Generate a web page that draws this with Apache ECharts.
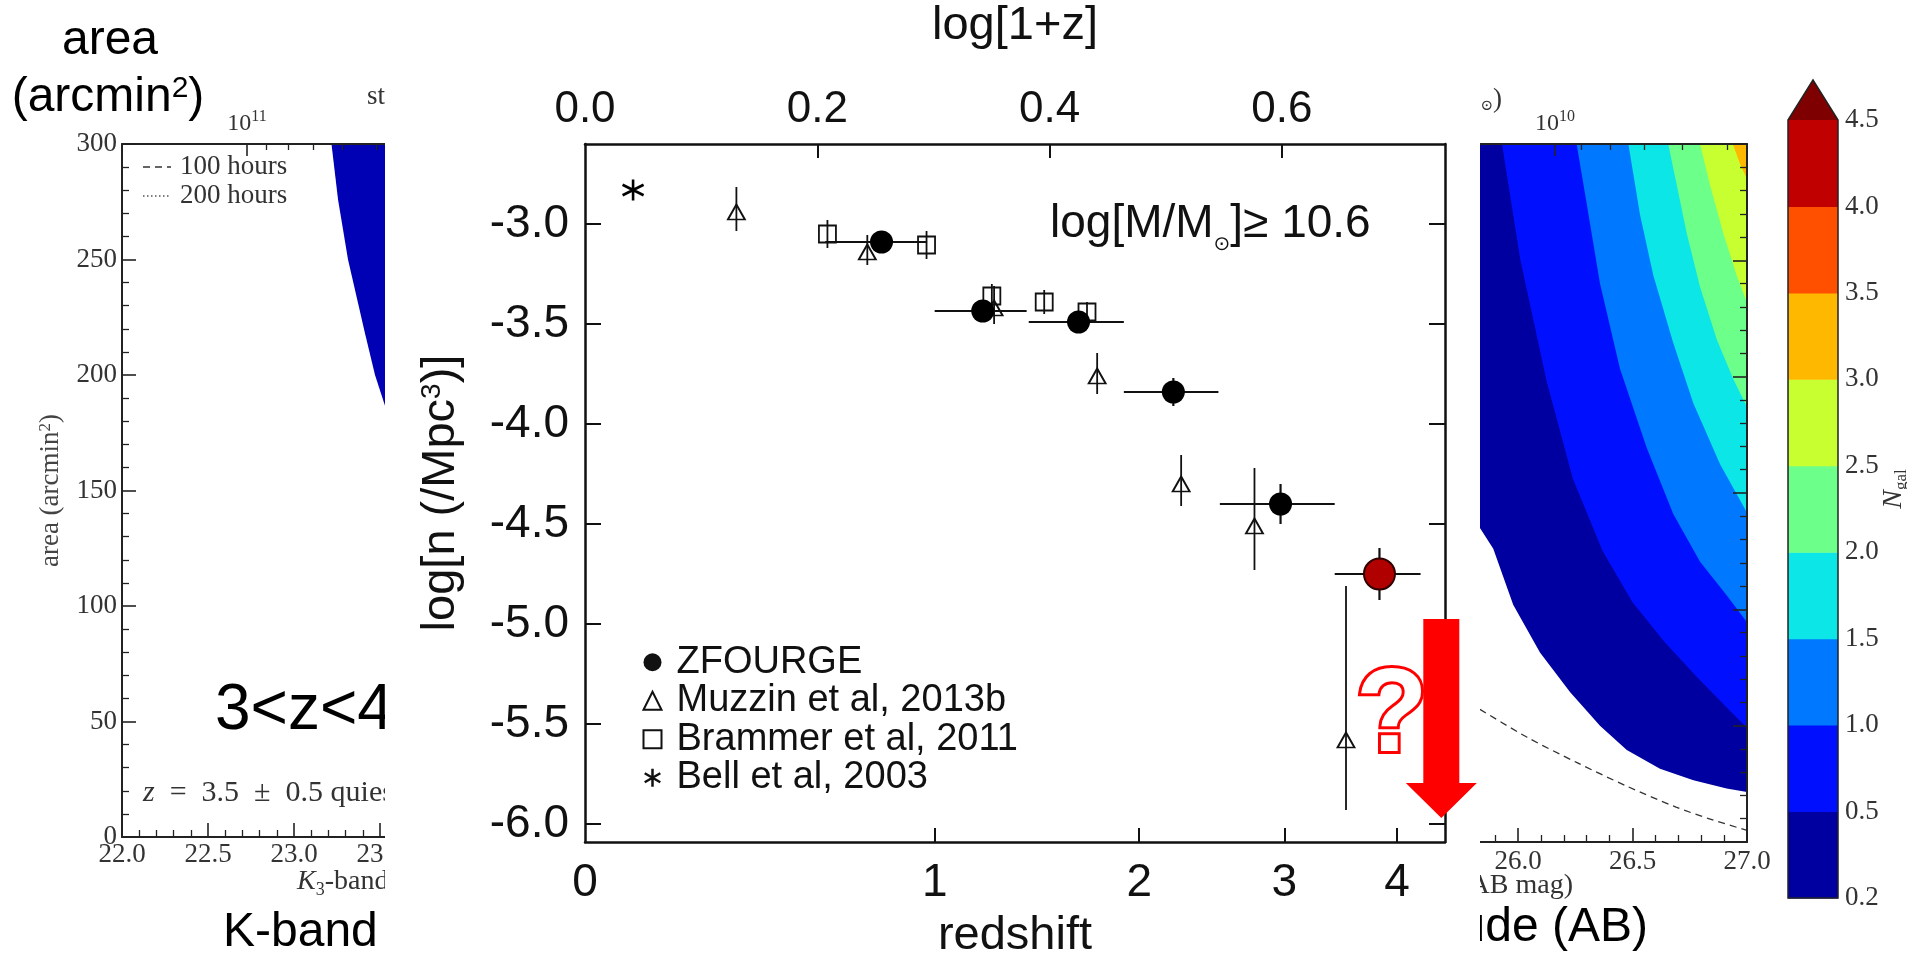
<!DOCTYPE html>
<html>
<head>
<meta charset="utf-8">
<script src="https://cdn.jsdelivr.net/npm/echarts@6/dist/echarts.min.js"></script>
<style>
  html, body { margin: 0; padding: 0; background: #fff; overflow: hidden; }
  #back  { position: absolute; left: 0; top: 0; width: 1907px; height: 958px; }
  #front { position: absolute; left: 385px; top: 0; width: 1095px; height: 958px; background: #fff; }
</style>
</head>
<body>
<div id="back"></div>
<div id="front"></div>
<script>
// ---------- fonts ----------
const SANS  = "'Liberation Sans', Arial, Helvetica, sans-serif";
const SERIF = "'Liberation Serif', 'DejaVu Serif', 'Times New Roman', serif";

// ---------- centre panel: number density of massive galaxies vs redshift ----------
const zfZ    = [0.80, 1.20, 1.66, 2.21, 2.97, 3.83];
const zfLogN = [-3.09, -3.435, -3.49, -3.84, -4.40, -4.75];
const zfErr  = [0.04, 0.05, 0.04, 0.07, 0.10, 0.13];
const zfZLo  = [0.61, 1.00, 1.41, 1.91, 2.52, 3.42];
const zfZHi  = [0.97, 1.40, 1.91, 2.51, 3.42, 4.24];
const zfFlag = [false, false, false, false, false, true];

const muZ    = [0.35, 0.75, 1.25, 1.76, 2.26, 2.77, 3.52];
const muLogN = [-2.94, -3.14, -3.42, -3.76, -4.30, -4.51, -5.58];
const muLo   = [-3.035, -3.205, -3.50, -3.85, -4.41, -4.73, -5.93];
const muHi   = [-2.815, -3.055, -3.31, -3.645, -4.155, -4.22, -4.81];

const brZ    = [0.617, 0.968, 1.24, 1.485, 1.705];
const brLogN = [-3.05, -3.105, -3.36, -3.39, -3.44];
const brErr  = [0.07, 0.07, 0.06, 0.06, 0.05];

const bellZ    = [0.10];
const bellLogN = [-2.83];

const zTicks    = [0, 1, 2, 3, 4];
const logZTicks = [0.0, 0.2, 0.4, 0.6];
const logNTicks = [-6.0, -5.5, -5.0, -4.5, -4.0, -3.5, -3.0];

// open question at the high-redshift end
const dropZ = 4.46, dropFrom = -4.975, dropTo = -5.97;
const askZ = 3.95, askLogN = -5.47;

// ---------- left panel: survey area vs K-band depth ----------
const leftEdge = [[23.218, 300], [23.256, 276], [23.314, 250], [23.413, 218], [23.471, 200], [23.53, 186.5]];
const leftMag1e11 = 22.727;
const leftMassMinor = [9e10, 8e10, 7e10, 6e10, 5e10];

// ---------- right panel: expected number of galaxies (filled contours) ----------
const edge02 = [[25.834, 135], [25.892, 126], [25.979, 102], [26.096, 81.5], [26.227, 64.5], [26.358, 50], [26.475, 39.5], [26.620, 31.5], [26.766, 26.5], [26.911, 23], [27.0, 21.5]];
const edge05 = [[25.93, 300], [26.01, 250.4], [26.125, 198], [26.24, 156], [26.37, 125], [26.50, 103], [26.64, 86], [26.78, 71], [26.92, 57], [27.0, 49]];
const edge10 = [[26.256, 300], [26.300, 274.3], [26.358, 240], [26.445, 203.5], [26.562, 169.5], [26.678, 141], [26.795, 120.5], [26.911, 106], [27.0, 94.5]];
const edge15 = [[26.482, 300], [26.533, 269.5], [26.591, 243.5], [26.678, 214.5], [26.766, 188.5], [26.882, 162.5], [27.0, 141.5]];
const edge20 = [[26.656, 300], [26.693, 282.5], [26.737, 261.5], [26.795, 238.5], [26.868, 216], [26.940, 199], [27.0, 187]];
const edge25 = [[26.795, 300], [26.838, 282.5], [26.897, 261.5], [26.955, 243.5], [27.0, 232]];
const edge30 = [[26.938, 300], [26.969, 291.5], [27.0, 285]];
const contourEdges = [edge02, edge05, edge10, edge15, edge20, edge25, edge30];
const hours100 = [[25.834, 57], [26.04, 45], [26.26, 34], [26.475, 24], [26.69, 15], [26.85, 9.5], [27.0, 5]];
const rightMag1e10 = 26.162;
const rightMassMinor = [9e9, 8e9, 7e9, 6e9, 5e9];

// ---------- colour bar ----------
const cbLevels = [0.2, 0.5, 1.0, 1.5, 2.0, 2.5, 3.0, 3.5, 4.0, 4.5];
const cbColors = ['#0000A0', '#0010FF', '#0078FF', '#0CE6E6', '#6CFF8A', '#C8FF30', '#FFB800', '#FF5000', '#C00000'];
const cbOver   = '#7F0000';
const leftFill = '#0000B4';

// ---------- helpers ----------
const lx = z => Math.log10(1 + z);
const magL = m => leftMag1e11 - 2.5 * Math.log10(m / 1e11);
const magR = m => rightMag1e10 - 2.5 * Math.log10(m / 1e10);
const SER_INK = '#333';

function serifAxis(extra) {
  return Object.assign({
    type: 'value', z: 5,
    axisLine: { onZero: false, lineStyle: { color: '#222', width: 2 } },
    splitLine: { show: false },
    axisTick: { inside: true, length: 14, lineStyle: { color: '#222', width: 1.6 } },
    minorTick: { show: true, splitNumber: 5, length: 7, lineStyle: { color: '#222', width: 1.3 } },
    axisLabel: { fontFamily: SERIF, fontSize: 27, color: SER_INK }
  }, extra);
}
const supRich = {
  b: { fontFamily: SERIF, fontSize: 24, color: SER_INK, lineHeight: 30 },
  s: { fontFamily: SERIF, fontSize: 16, color: SER_INK, verticalAlign: 'top', lineHeight: 16 }
};

// ================= background chart: side panels and colour bar =================
const back = echarts.init(document.getElementById('back'), null, { renderer: 'canvas' });
back.setOption({
  animation: false,
  backgroundColor: '#fff',
  grid: [
    { left: 122, top: 144, width: 344, height: 693, outerBoundsMode: 'none', containLabel: false },
    { left: 1403.5, top: 144, width: 343.5, height: 698, outerBoundsMode: 'none', containLabel: false },
    { left: 1788, top: 80, width: 50, height: 818, outerBoundsMode: 'none', containLabel: false }
  ],
  xAxis: [
    serifAxis({ gridIndex: 0, position: 'bottom', min: 22, max: 24, interval: 0.5,
      axisLabel: { fontFamily: SERIF, fontSize: 27, color: SER_INK, margin: 4, formatter: v => v.toFixed(1) } }),
    serifAxis({ gridIndex: 0, position: 'top', min: 22, max: 24, minorTick: { show: false },
      axisTick: { inside: true, length: 12, customValues: [magL(1e11)], lineStyle: { color: '#222', width: 1.6 } },
      axisLabel: { customValues: [magL(1e11)], margin: 5, formatter: () => '{b|10}{s|11}', rich: supRich } }),
    serifAxis({ gridIndex: 0, position: 'top', min: 22, max: 24, minorTick: { show: false },
      axisLine: { show: false, onZero: false },
      axisTick: { inside: true, length: 6, customValues: leftMassMinor.map(magL), lineStyle: { color: '#222', width: 1.3 } },
      axisLabel: { show: false } }),
    serifAxis({ gridIndex: 1, position: 'bottom', min: 25.5, max: 27, interval: 0.5,
      axisLabel: { fontFamily: SERIF, fontSize: 27, color: SER_INK, margin: 6, formatter: v => v.toFixed(1) } }),
    serifAxis({ gridIndex: 1, position: 'top', min: 25.5, max: 27, minorTick: { show: false },
      axisTick: { inside: true, length: 12, customValues: [magR(1e10)], lineStyle: { color: '#222', width: 1.6 } },
      axisLabel: { customValues: [magR(1e10)], margin: 5, formatter: () => '{b|10}{s|10}', rich: supRich } }),
    serifAxis({ gridIndex: 1, position: 'top', min: 25.5, max: 27, minorTick: { show: false },
      axisLine: { show: false, onZero: false },
      axisTick: { inside: true, length: 6, customValues: rightMassMinor.map(magR), lineStyle: { color: '#222', width: 1.3 } },
      axisLabel: { show: false } }),
    { type: 'value', gridIndex: 2, min: 0, max: 1, show: false }
  ],
  yAxis: [
    serifAxis({ gridIndex: 0, position: 'left', min: 0, max: 300, interval: 50,
      axisLabel: { fontFamily: SERIF, fontSize: 27, color: SER_INK, margin: 5 },
      name: 'area (arcmin{s|2})', nameLocation: 'middle', nameGap: 58, nameRotate: 90, nameMoveOverlap: false,
      nameTextStyle: { fontFamily: SERIF, fontSize: 27, color: '#444',
        rich: { s: { fontFamily: SERIF, fontSize: 17, color: '#444', verticalAlign: 'top', lineHeight: 17 } } } }),
    serifAxis({ gridIndex: 1, position: 'right', min: 0, max: 300, interval: 50,
      axisLabel: { show: false } }),
    { type: 'value', gridIndex: 2, position: 'right', min: 0, max: 9 + 40 / 86.4, z: 5,
      axisLine: { show: false, onZero: false }, axisTick: { show: false }, splitLine: { show: false },
      axisLabel: { customValues: cbLevels.map((_, i) => i), margin: 7, fontFamily: SERIF, fontSize: 27, color: SER_INK,
        formatter: v => cbLevels[Math.round(v)].toFixed(1) },
      name: '{n|N}{g|gal}', nameLocation: 'middle', nameRotate: 90, nameGap: 40, nameMoveOverlap: false,
      nameTextStyle: { rich: {
        n: { fontFamily: SERIF, fontStyle: 'italic', fontSize: 28, color: SER_INK, lineHeight: 32 },
        g: { fontFamily: SERIF, fontSize: 17, color: SER_INK, verticalAlign: 'bottom', lineHeight: 17 } } } }
  ],
  series: [
    { // region reachable at the bright end of the left panel
      type: 'custom', name: 'left-fill', xAxisIndex: 0, yAxisIndex: 0, silent: true, z: 1,
      data: [[0]],
      renderItem: (params, api) => {
        const pts = leftEdge.map(p => api.coord(p));
        pts.push(api.coord([leftEdge[leftEdge.length - 1][0], 300]));
        return { type: 'polygon', shape: { points: pts }, style: { fill: leftFill } };
      }
    },
    { // filled contour bands, lowest level first
      type: 'custom', name: 'contours', xAxisIndex: 3, yAxisIndex: 1, silent: true, z: 1,
      data: contourEdges.map((_, i) => [i]),
      renderItem: (params, api) => {
        const i = params.dataIndex;
        const edge = contourEdges[i];
        const pts = edge.map(p => api.coord(p));
        pts.push(api.coord([27.0, 300]));
        if (edge[0][1] < 300) pts.push(api.coord([edge[0][0], 300]));
        return { type: 'polygon', shape: { points: pts }, style: { fill: cbColors[i] } };
      }
    },
    {
      type: 'line', name: '100 hours', xAxisIndex: 3, yAxisIndex: 1, z: 3,
      data: hours100, symbol: 'none', smooth: 0.3,
      lineStyle: { color: '#333', width: 1.3, type: [7, 5] }
    },
    { // colour bar bands and the "over" triangle
      type: 'custom', name: 'colourbar', xAxisIndex: 6, yAxisIndex: 2, silent: true, z: 1,
      data: cbColors.map((_, i) => [i]).concat([[cbColors.length]]),
      renderItem: (params, api) => {
        const i = params.dataIndex;
        const top = api.coord([0, 9 + 40 / 86.4]);
        if (i < cbColors.length) {
          const a = api.coord([0, i + 1]), b = api.coord([1, i]);
          return { type: 'rect', shape: { x: a[0], y: a[1], width: b[0] - a[0], height: b[1] - a[1] + 0.5 }, style: { fill: cbColors[i] } };
        }
        const l = api.coord([0, 9]), r = api.coord([1, 9]);
        const tip = [(l[0] + r[0]) / 2, top[1]];
        return { type: 'group', children: [
          { type: 'polygon', shape: { points: [l, r, tip] }, style: { fill: cbOver } },
          { type: 'polygon', shape: { points: [api.coord([0, 0]), api.coord([1, 0]), r, tip, l] },
            style: { fill: 'none', stroke: '#222', lineWidth: 1.5 } }
        ] };
      }
    }
  ],
  graphic: [
    { type: 'text', x: 110, y: 41, style: { text: 'area', font: `48px ${SANS}`, fill: '#000', align: 'center', verticalAlign: 'middle' } },
    { type: 'text', x: 108, y: 98, style: { text: '(arcmin{s|2})', font: `48px ${SANS}`, fill: '#000', align: 'center', verticalAlign: 'middle',
      rich: { s: { fontFamily: SANS, fontSize: 30, fill: '#000', verticalAlign: 'top', lineHeight: 30 } } } },
    { type: 'text', x: 215, y: 711, style: { text: '3<z<4', font: `64px ${SANS}`, fill: '#000', align: 'left', verticalAlign: 'middle' } },
    { type: 'text', x: 223, y: 933, style: { text: 'K-band', font: `48px ${SANS}`, fill: '#000', align: 'left', verticalAlign: 'middle' } },
    { type: 'text', x: 1648, y: 928, style: { text: 'magnitude (AB)', font: `48px ${SANS}`, fill: '#000', align: 'right', verticalAlign: 'middle' } },

    { type: 'text', x: 367, y: 97, style: { text: 'stellar mass (M{s|⊙})', font: `27px ${SERIF}`, fill: SER_INK, align: 'left', verticalAlign: 'middle',
      rich: { s: { fontFamily: SERIF, fontSize: 15, fill: SER_INK, verticalAlign: 'bottom', lineHeight: 15 } } } },
    { type: 'text', x: 1502, y: 100, style: { text: 'stellar mass (M{s|⊙})', font: `27px ${SERIF}`, fill: SER_INK, align: 'right', verticalAlign: 'middle',
      rich: { s: { fontFamily: SERIF, fontSize: 15, fill: SER_INK, verticalAlign: 'bottom', lineHeight: 15 } } } },
    { type: 'text', x: 297, y: 882, style: { text: '{i|K}{s|3}-band magnitude (AB mag)', font: `28px ${SERIF}`, fill: SER_INK, align: 'left', verticalAlign: 'middle',
      rich: { i: { fontFamily: SERIF, fontStyle: 'italic', fontSize: 28, fill: SER_INK, lineHeight: 34 },
              s: { fontFamily: SERIF, fontSize: 18, fill: SER_INK, verticalAlign: 'bottom', lineHeight: 18 } } } },
    { type: 'text', x: 1573, y: 886, style: { text: 'K-band magnitude (AB mag)', font: `28px ${SERIF}`, fill: SER_INK, align: 'right', verticalAlign: 'middle' } },
    { type: 'text', x: 143, y: 793, style: { text: '{i|z}  =  3.5  ±  0.5 quiescent galaxies', font: `30px ${SERIF}`, fill: SER_INK, align: 'left', verticalAlign: 'middle',
      rich: { i: { fontFamily: SERIF, fontStyle: 'italic', fontSize: 30, fill: SER_INK } } } },

    { type: 'line', shape: { x1: 143, y1: 167, x2: 171, y2: 167 }, style: { stroke: '#333', lineWidth: 1.5, lineDash: [7, 5] } },
    { type: 'line', shape: { x1: 143, y1: 196, x2: 171, y2: 196 }, style: { stroke: '#555', lineWidth: 1.3, lineDash: [1.5, 2.5] } },
    { type: 'text', x: 180, y: 167, style: { text: '100 hours', font: `27px ${SERIF}`, fill: SER_INK, align: 'left', verticalAlign: 'middle' } },
    { type: 'text', x: 180, y: 196, style: { text: '200 hours', font: `27px ${SERIF}`, fill: SER_INK, align: 'left', verticalAlign: 'middle' } }
  ]
});

// ================= foreground chart: number density vs redshift =================
const OX = 385;
const INK = '#111';
const ASTERISK = 'path://M10,0L10,20M1.34,5L18.66,15M1.34,15L18.66,5';

function errData(xs, ys, xlo, xhi, ylo, yhi) {
  return xs.map((_, i) => [xs[i], ys[i], xlo[i], xhi[i], ylo[i], yhi[i]]);
}
function errRender(width) {
  return (params, api) => {
    const x = api.value(0), xl = api.value(2), xh = api.value(3), yl = api.value(4), yh = api.value(5), y = api.value(1);
    const kids = [];
    if (yl !== yh) {
      const a = api.coord([x, yl]), b = api.coord([x, yh]);
      kids.push({ type: 'line', shape: { x1: a[0], y1: a[1], x2: b[0], y2: b[1] }, style: { stroke: INK, lineWidth: width } });
    }
    if (xl !== xh) {
      const a = api.coord([xl, y]), b = api.coord([xh, y]);
      kids.push({ type: 'line', shape: { x1: a[0], y1: a[1], x2: b[0], y2: b[1] }, style: { stroke: INK, lineWidth: width } });
    }
    return { type: 'group', children: kids };
  };
}

const zfX = zfZ.map(lx);
const muX = muZ.map(lx);
const brX = brZ.map(lx);

const front = echarts.init(document.getElementById('front'), null, { renderer: 'canvas' });
const axisLineStyle = { onZero: false, lineStyle: { color: INK, width: 2.5 } };
const tickStyle = { color: INK, width: 2 };
front.setOption({
  animation: false,
  backgroundColor: '#fff',
  grid: { left: 585 - OX, top: 144, width: 860, height: 698, outerBoundsMode: 'none', containLabel: false },
  legend: {
    orient: 'vertical', left: 636 - OX, top: 638, itemWidth: 18, itemHeight: 18, itemGap: 0,
    selectedMode: false,
    textStyle: { fontFamily: SANS, fontSize: 38, color: INK, lineHeight: 38.5, padding: [0, 0, 0, 10] },
    data: [
      { name: 'ZFOURGE', icon: 'circle', itemStyle: { color: INK, borderWidth: 0, opacity: 1 } },
      { name: 'Muzzin et al, 2013b', icon: 'triangle', itemStyle: { color: 'none', borderColor: INK, borderWidth: 2, opacity: 1 } },
      { name: 'Brammer et al, 2011', icon: 'rect', itemStyle: { color: 'none', borderColor: INK, borderWidth: 2, opacity: 1 } },
      { name: 'Bell et al, 2003', icon: ASTERISK, itemStyle: { color: 'none', borderColor: INK, borderWidth: 2.5, opacity: 1 } }
    ]
  },
  xAxis: [
    { type: 'value', position: 'bottom', min: 0, max: lx(4.5), z: 5,
      axisLine: axisLineStyle, splitLine: { show: false },
      axisTick: { inside: true, length: 14, lineStyle: tickStyle, customValues: zTicks.slice(1).map(lx) },
      axisLabel: { customValues: zTicks.map(lx), fontFamily: SANS, fontSize: 46, color: INK, margin: 18,
        formatter: v => String(Math.round(Math.pow(10, v) - 1)) },
      name: 'redshift', nameLocation: 'middle', nameGap: 71,
      nameTextStyle: { fontFamily: SANS, fontSize: 47, color: INK } },
    { type: 'value', position: 'top', min: 0, max: lx(4.5), z: 5,
      axisLine: axisLineStyle, splitLine: { show: false },
      axisTick: { inside: true, length: 14, lineStyle: tickStyle, customValues: logZTicks.slice(1) },
      axisLabel: { customValues: logZTicks, fontFamily: SANS, fontSize: 44, color: INK, margin: 12,
        formatter: v => v.toFixed(1) },
      name: 'log[1+z]', nameLocation: 'middle', nameGap: 94,
      nameTextStyle: { fontFamily: SANS, fontSize: 47, color: INK } }
  ],
  yAxis: [
    { type: 'value', position: 'left', min: -6.09, max: -2.6, z: 5,
      axisLine: axisLineStyle, splitLine: { show: false },
      axisTick: { inside: true, length: 16, lineStyle: tickStyle, customValues: logNTicks },
      axisLabel: { customValues: logNTicks, fontFamily: SANS, fontSize: 46, color: INK, margin: 16,
        formatter: v => v.toFixed(1) },
      name: 'log[n (/Mpc{s|3})]', nameLocation: 'middle', nameGap: 120, nameRotate: 90,
      nameTextStyle: { fontFamily: SANS, fontSize: 47, color: INK,
        rich: { s: { fontFamily: SANS, fontSize: 28, color: INK, verticalAlign: 'top', lineHeight: 28 } } } },
    { type: 'value', position: 'right', min: -6.09, max: -2.6, z: 5,
      axisLine: axisLineStyle, splitLine: { show: false },
      axisTick: { inside: true, length: 16, lineStyle: tickStyle, customValues: logNTicks },
      axisLabel: { show: false } }
  ],
  series: [
    { type: 'custom', name: 'err-brammer', silent: true, z: 2, encode: { x: 0, y: 1 },
      data: errData(brX, brLogN, brX, brX, brLogN.map((v, i) => v - brErr[i]), brLogN.map((v, i) => v + brErr[i])),
      renderItem: errRender(1.8) },
    { type: 'custom', name: 'err-muzzin', silent: true, z: 2, encode: { x: 0, y: 1 },
      data: errData(muX, muLogN, muX, muX, muLo, muHi),
      renderItem: errRender(1.8) },
    { type: 'custom', name: 'err-zfourge', silent: true, z: 2, encode: { x: 0, y: 1 },
      data: errData(zfX, zfLogN, zfZLo.map(lx), zfZHi.map(lx), zfLogN.map((v, i) => v - zfErr[i]), zfLogN.map((v, i) => v + zfErr[i])),
      renderItem: errRender(2.2) },
    { type: 'scatter', name: 'Brammer et al, 2011', symbol: 'rect', symbolSize: 17, z: 3,
      itemStyle: { color: 'none', borderColor: INK, borderWidth: 1.8, opacity: 1 },
      data: brX.map((x, i) => [x, brLogN[i]]) },
    { type: 'scatter', name: 'Muzzin et al, 2013b', symbol: 'triangle', symbolSize: [17, 15], z: 3,
      itemStyle: { color: 'none', borderColor: INK, borderWidth: 1.8, opacity: 1 },
      data: muX.map((x, i) => [x, muLogN[i]]) },
    { type: 'scatter', name: 'ZFOURGE', symbol: 'circle', symbolSize: 23, z: 4,
      itemStyle: { color: '#000', opacity: 1 },
      data: zfX.map((x, i) => zfFlag[i]
        ? { value: [x, zfLogN[i]], symbolSize: 31, itemStyle: { color: '#B00000', borderColor: '#300000', borderWidth: 2, opacity: 1 } }
        : { value: [x, zfLogN[i]] }) },
    { type: 'scatter', name: 'Bell et al, 2003', symbol: ASTERISK, symbolSize: 21, z: 4,
      itemStyle: { color: 'none', borderColor: '#000', borderWidth: 2.6, opacity: 1 },
      data: bellZ.map((z, i) => [lx(z), bellLogN[i]]) },
    { type: 'custom', name: 'drop-arrow', silent: true, z: 10, clip: false, encode: { x: 0, y: 1 },
      data: [[lx(dropZ), dropFrom, dropTo]],
      renderItem: (params, api) => {
        const top = api.coord([api.value(0), api.value(1)]);
        const tip = api.coord([api.value(0), api.value(2)]);
        const sw = 18, hw = 35.5, hh = 35, cx = top[0];
        return { type: 'polygon', shape: { points: [
          [cx - sw, top[1]], [cx + sw, top[1]], [cx + sw, tip[1] - hh], [cx + hw, tip[1] - hh],
          [cx, tip[1]], [cx - hw, tip[1] - hh], [cx - sw, tip[1] - hh]] },
          style: { fill: '#FF0000' } };
      } },
    { type: 'custom', name: 'question', silent: true, z: 10, clip: false, encode: { x: 0, y: 1 },
      data: [[lx(askZ), askLogN]],
      renderItem: (params, api) => {
        const p = api.coord([api.value(0), api.value(1)]);
        return { type: 'text', x: p[0], y: p[1], style: { text: '?', fontFamily: SANS, fontSize: 118, fontWeight: 'bold',
          fill: '#fff', stroke: '#FF0000', lineWidth: 6, align: 'center', verticalAlign: 'middle' } };
      } }
  ],
  graphic: [
    { type: 'text', x: 1050 - OX, y: 224, style: {
      text: '{a|log[M/M}{s|⊙}{a|]≥ 10.6}', align: 'left', verticalAlign: 'middle',
      rich: {
        a: { fontFamily: SANS, fontSize: 46, fill: INK, lineHeight: 62 },
        s: { fontFamily: "'DejaVu Sans', " + SANS, fontSize: 20, fill: INK, verticalAlign: 'bottom', lineHeight: 22 }
      } } }
  ]
});
</script>
</body>
</html>
